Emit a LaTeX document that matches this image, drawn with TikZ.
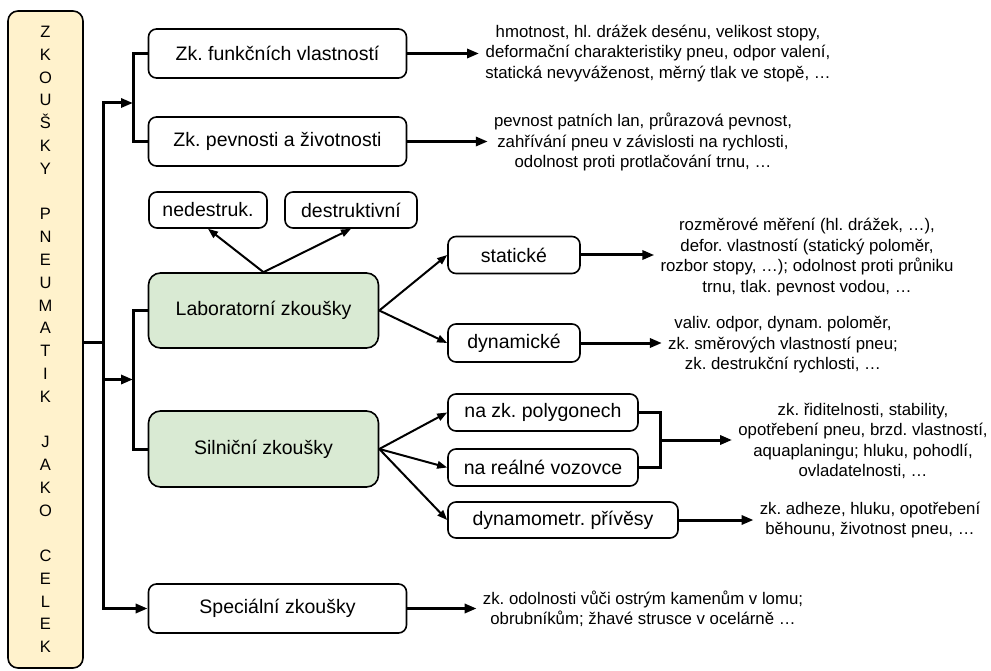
\documentclass[tikz,border=0pt]{standalone}
\usepackage{fontspec}
\setmainfont{Liberation Sans}
\usepackage{xcolor}
\usetikzlibrary{arrows.meta, positioning, calc}
\definecolor{titlefill}{HTML}{FFF2CC}
\definecolor{groupfill}{HTML}{D9EAD3}

\begin{document}
\begin{tikzpicture}[x=1pt, y=-1pt,
    box/.style={rectangle, draw, line width=1.6pt, rounded corners=8pt, align=center, inner sep=0pt, font=\fontsize{19.5}{23}\selectfont\frenchspacing},
    group/.style={box, fill=groupfill, rounded corners=12pt},
    note/.style={align=center, inner xsep=6pt, inner ysep=0pt, font=\fontsize{16.8}{20.5}\selectfont\frenchspacing},
    conn/.style={line width=3pt},
    arr/.style={conn, -{Triangle[length=12pt, width=9pt]}},
    thin arr/.style={line width=2pt, -{Triangle[length=10pt, width=7.5pt]}}
]
    \useasboundingbox (0,0) rectangle (991,671);

    % Left column with the title
    \node[box, fill=titlefill, rounded corners=10pt, minimum width=75pt, minimum height=657pt, font=\fontsize{16.5}{22.78}\selectfont] (title) at (45.5,339.5)
        {Z\\K\\O\\U\\Š\\K\\Y\\[22.78pt]P\\N\\E\\U\\M\\A\\T\\I\\K\\[22.78pt]J\\A\\K\\O\\[22.78pt]C\\E\\L\\E\\K};

    % Kinds of tests
    \node[box, minimum width=258pt, minimum height=49pt] (funk) at (277.5,53.5) {Zk. funkčních vlastností};
    \node[box, minimum width=258pt, minimum height=49pt] (pevn) at (277.5,141.5) {Zk. pevnosti a životnosti};
    \node[box, minimum width=118pt, minimum height=36pt] (nedes) at (208,210) {nedestruk.};
    \node[box, minimum width=132pt, minimum height=36pt] (destr) at (351,210) {destruktivní};
    \node[group, minimum width=230pt, minimum height=75pt] (lab) at (263.5,310.5) {Laboratorní zkoušky};
    \node[box, minimum width=132pt, minimum height=37pt] (stat) at (514,255) {statické};
    \node[box, minimum width=132pt, minimum height=38pt] (dyn) at (514,343) {dynamické};
    \node[group, minimum width=230pt, minimum height=76pt] (sil) at (263.5,449) {Silniční zkoušky};
    \node[box, minimum width=190pt, minimum height=37pt] (poly) at (543,412.5) {na zk. polygonech};
    \node[box, minimum width=190pt, minimum height=37pt] (real) at (543,467.5) {na reálné vozovce};
    \node[box, minimum width=230pt, minimum height=36pt] (priv) at (563,520) {dynamometr. přívěsy};
    \node[box, minimum width=258pt, minimum height=49pt] (spec) at (277.5,608.5) {Speciální zkoušky};

    % Descriptions
    \node[note] (funktxt) at (658,53.5) {hmotnost, hl. drážek desénu, velikost stopy,\\deformační charakteristiky pneu, odpor valení,\\statická nevyváženost, měrný tlak ve stopě, …};
    \node[note] (pevntxt) at (643,142) {pevnost patních lan, průrazová pevnost,\\zahřívání pneu v závislosti na rychlosti,\\odolnost proti protlačování trnu, …};
    \node[note] (stattxt) at (807,257) {rozměrové měření (hl. drážek, …),\\defor. vlastností (statický poloměr,\\rozbor stopy, …); odolnost proti průniku\\trnu, tlak. pevnost vodou, …};
    \node[note] (dyntxt) at (783,345) {valiv. odpor, dynam. poloměr,\\zk. směrových vlastností pneu;\\zk. destrukční rychlosti, …};
    \node[note] (polytxt) at (863,441) {zk. řiditelnosti, stability,\\opotřebení pneu, brzd. vlastností,\\aquaplaningu; hluku, pohodlí,\\ovladatelnosti, …};
    \node[note] (privtxt) at (870,520) {zk. adheze, hluku, opotřebení\\běhounu, životnost pneu, …};
    \node[note] (spectxt) at (643,609) {zk. odolnosti vůči ostrým kamenům v lomu;\\obrubníkům; žhavé strusce v ocelárně …};

    % Main trunk
    \coordinate (trunk) at (103,342);
    \coordinate (fork1) at (133,103);
    \coordinate (fork2) at (133,379.5);
    \draw[conn] (title.east |- trunk) -- (trunk);
    \draw[arr] (trunk) |- (fork1);
    \draw[arr] (trunk) |- (fork2);
    \draw[arr] (trunk) |- (spec.west);

    % Brackets
    \draw[conn] (funk.west) -- ++(-14,0) |- (pevn.west);
    \draw[conn] (lab.west) -- ++(-14,0) |- (sil.west);
    \draw[conn] (poly.east) -- ++(22,0) |- (real.east);
    \coordinate (fork3) at ($(poly.east)!0.5!(real.east) + (22,0)$);

    % Branches
    \draw[thin arr] (lab.north) -- (nedes.south);
    \draw[thin arr] (lab.north) -- (destr.south);
    \draw[thin arr] (lab.east) -- (stat.west);
    \draw[thin arr] (lab.east) -- (dyn.west);
    \draw[thin arr] (sil.east) -- (poly.west);
    \draw[thin arr] (sil.east) -- (real.west);
    \draw[thin arr] (sil.east) -- (priv.west);

    % Arrows to descriptions
    \draw[arr] (funk) -- (funk -| funktxt.west);
    \draw[arr] (pevn) -- (pevn -| pevntxt.west);
    \draw[arr] (stat) -- (stat -| stattxt.west);
    \draw[arr] (dyn) -- (dyn -| dyntxt.west);
    \draw[arr] (fork3) -- (fork3 -| polytxt.west);
    \draw[arr] (priv) -- (priv -| privtxt.west);
    \draw[arr] (spec) -- (spec -| spectxt.west);
\end{tikzpicture}
\end{document}
